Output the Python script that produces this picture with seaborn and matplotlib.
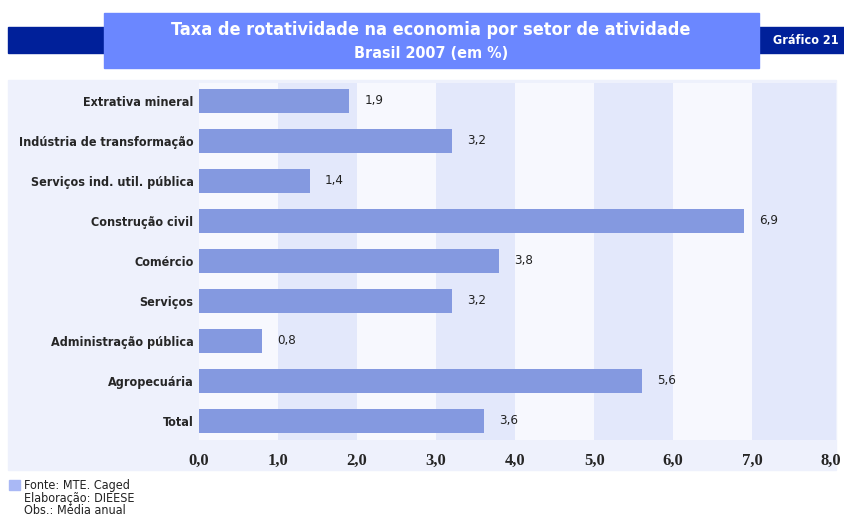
import matplotlib
matplotlib.use('Agg')
import matplotlib.pyplot as plt
import seaborn as sns
from matplotlib.patches import Rectangle

# data
setores = ['Extrativa mineral', 'Indústria de transformação', 'Serviços ind. util. pública',
           'Construção civil', 'Comércio', 'Serviços', 'Administração pública',
           'Agropecuária', 'Total']
taxa = [1.9, 3.2, 1.4, 6.9, 3.8, 3.2, 0.8, 5.6, 3.6]
ticks = [0, 1, 2, 3, 4, 5, 6, 7, 8]
notas = ['Fonte: MTE. Caged', 'Elaboração: DIEESE', 'Obs.: Média anual']

sns.set_style('white')
narrow = ['Liberation Sans Narrow', 'DejaVu Sans']

fig = plt.figure(figsize=(8.44, 5.2), dpi=100)

# panel background and title banner
fig.patches.append(Rectangle((8/844, 50/520), 828/844, 390/520, transform=fig.transFigure,
                             color='#EEF1FC', zorder=-5))
fig.patches.append(Rectangle((8/844, 1 - 53/520), 836/844, 26/520, transform=fig.transFigure,
                             color='#00209A', zorder=-5))
fig.patches.append(Rectangle((104/844, 1 - 68/520), 655/844, 55/520, transform=fig.transFigure,
                             color='#6B87FF', zorder=-4))
fig.text(431/844, 1 - 30/520, 'Taxa de rotatividade na economia por setor de atividade',
         ha='center', va='center', color='white', fontsize=13, fontweight='bold',
         family=narrow, fontstretch='condensed')
fig.text(431/844, 1 - 54/520, 'Brasil 2007 (em %)', ha='center', va='center', color='white',
         fontsize=11.5, fontweight='bold', family=narrow, fontstretch='condensed')
fig.text(806/844, 1 - 40/520, 'Gráfico 21', ha='center', va='center', color='white',
         fontsize=9, fontweight='bold', family=narrow, fontstretch='condensed')

xmax = 8.06
ax = fig.add_axes([199/844, 80/520, 637/844, 357/520])
ax.set_facecolor('#F7F8FE')
# alternating column bands, the last one runs to the panel edge
for t in ticks[1::2]:
    ax.axvspan(t, min(t + 1, xmax) if t + 1 < 8 else xmax, color='#E3E8FB', zorder=0, lw=0)

sns.barplot(x=taxa, y=setores, color='#8499E0', width=0.6, saturation=1, ax=ax, zorder=2,
            linewidth=0)
labels = [f'{v:.1f}'.replace('.', ',') for v in taxa]
ax.bar_label(ax.containers[0], labels=labels, padding=11, fontsize=9.5, color='#222222',
             family=narrow, fontstretch='condensed')

ax.set_xlim(0, xmax)
ax.set_ylim(len(setores) - 0.52, -0.45)
ax.set_xticks(ticks)
ax.set_xticklabels([f'{t:.1f}'.replace('.', ',') for t in ticks], fontsize=12,
                   fontweight='bold', family='Liberation Serif')
ax.tick_params(axis='x', length=0, pad=9)
ax.tick_params(axis='y', length=0, pad=4)
for lab in ax.get_yticklabels():
    lab.set_family(narrow)
    lab.set_fontstretch('condensed')
    lab.set_fontweight('bold')
    lab.set_fontsize(9)
for s in ax.spines.values():
    s.set_visible(False)
ax.set_xlabel('')
ax.set_ylabel('')

# footnotes
fig.patches.append(Rectangle((9/844, 1 - 490/520), 11/844, 10/520, transform=fig.transFigure,
                             color='#A9B8F5', zorder=1))
for i, n in enumerate(notas):
    fig.text(24/844, 1 - (486 + i * 12.5)/520, n, ha='left', va='center', fontsize=9,
             color='#222222', family=narrow, fontstretch='condensed')

fig.savefig('out.png', dpi=100)
